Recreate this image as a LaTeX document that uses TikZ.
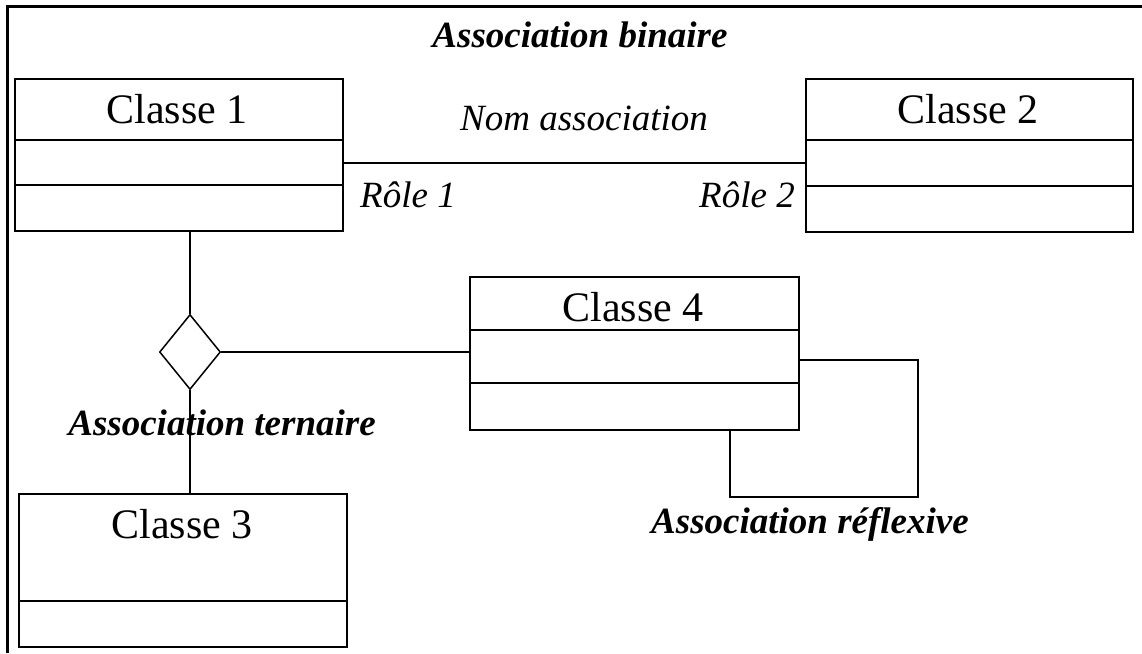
\documentclass[tikz,border=0pt]{standalone}
\usepackage{fontspec}
\setmainfont{Liberation Serif}
\usetikzlibrary{shapes.geometric}

\begin{document}
\begin{tikzpicture}[x=1pt,y=-1pt,
  classbox/.style={draw,line width=2.4pt,inner sep=0pt,outer sep=0pt,anchor=north west,
    minimum width=#1},
  classbox/.default=328pt,
  classname/.style={anchor=base,inner sep=0pt,font=\fontsize{42}{50}\selectfont},
  divider/.style={line width=2.4pt},
  link/.style={line width=1.5pt},
  note/.style={anchor=base,inner sep=0pt,font=\fontsize{37}{44}\selectfont\itshape},
  title/.style={anchor=base,inner sep=0pt,font=\fontsize{37}{44}\selectfont\bfseries\itshape},
  frame/.style={line width=2.2pt}
]
\useasboundingbox (0,0) rectangle (1142,653);

% page frame (top and left edges)
\draw[frame] (7.5,653) -- (7.5,6.5) -- (1142,6.5);

% class boxes
\node[classbox, minimum height=152pt] (c1) at (15,79) {};
\node[classbox=327pt, minimum height=153pt] (c2) at (806,79) {};
\node[classbox=329pt, minimum height=153pt] (c4) at (470,277) {};
\node[classbox, minimum height=153pt] (c3) at (19,494) {};

% compartments
\draw[divider] ([yshift=-61pt]c1.north west) -- ([yshift=-61pt]c1.north east);
\draw[divider] ([yshift=-106pt]c1.north west) -- ([yshift=-106pt]c1.north east);
\draw[divider] ([yshift=-61pt]c2.north west) -- ([yshift=-61pt]c2.north east);
\draw[divider] ([yshift=-107pt]c2.north west) -- ([yshift=-107pt]c2.north east);
\draw[divider] ([yshift=-53pt]c4.north west) -- ([yshift=-53pt]c4.north east);
\draw[divider] ([yshift=-106pt]c4.north west) -- ([yshift=-106pt]c4.north east);
\draw[divider] ([yshift=-107pt]c3.north west) -- ([yshift=-107pt]c3.north east);

% class names
\node[classname] (n1) at (177,123) {Classe 1};
\node[classname] (n2) at (968,123) {Classe 2};
\node[classname] (n4) at (633,321) {Classe 4};
\node[classname] (n3) at (182,538) {Classe 3};

% binary association
\draw[link] ([yshift=-84pt]c1.north east) -- ([yshift=-84pt]c2.north west);
\node[title] (tb) at (580,47) {Association binaire};
\node[note] (na) at (584,130) {Nom association};
\node[note,anchor=base west] (r1) at (360,207) {Rôle 1};
\node[note,anchor=base west] (r2) at (699,207) {Rôle 2};

% ternary association
\node[diamond,draw,line width=1.5pt,inner sep=0pt,minimum width=61pt,minimum height=75pt] (d) at (190,352) {};
\draw[link] (d.north) -- (d.north |- c1.south);
\draw[link] (d.east) -- (d.east -| c4.west);
\draw[link] (d.south) -- (d.south |- c3.north);
\node[title] (tt) at (222,435) {Association ternaire};

% reflexive association
\coordinate (rc) at (918,497);
\coordinate (rl) at (730,497);
\draw[link] ([yshift=-83pt]c4.north east) -| (rc) -- (rl) -- (rl |- c4.south);
\node[title] (tr) at (810,533) {Association réflexive};
\end{tikzpicture}
\end{document}
